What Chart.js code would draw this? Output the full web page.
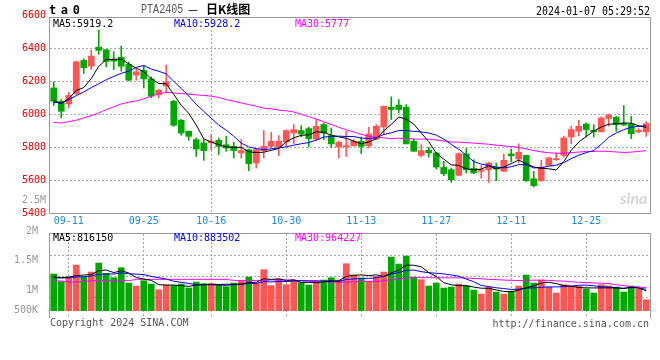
<!DOCTYPE html>
<html>
<head>
<meta charset="utf-8">
<script src="https://cdn.jsdelivr.net/npm/chart.js@4.4.1/dist/chart.umd.min.js"></script>
<style>
    body { margin: 0; background: #fff; }
    #wrap { position: relative; width: 660px; height: 360px; overflow: hidden; font-family: "DejaVu Sans Mono", monospace; font-size: 10px; }
    canvas { position: absolute; left: 0; }
    .t { position: absolute; white-space: nowrap; line-height: 12px; }
</style>
</head>
<body>
<div id="wrap">
    <canvas id="kline" width="660" height="229" style="top:0"></canvas>
    <canvas id="vol" width="660" height="92" style="top:226px"></canvas>

    <div class="t" style="left:49px;top:3px;font-size:12px;font-weight:bold;letter-spacing:-1.3px;line-height:14px">t a 0</div>
    <div class="t" style="left:141px;top:3px;font-family:'Liberation Mono';font-size:12px;line-height:14px;color:#555;transform:scaleX(0.84);transform-origin:left">PTA2405</div>
    <div class="t" style="left:187px;top:3px;font-family:'Noto Sans CJK SC';font-size:12px;line-height:14px;color:#000">－</div>
    <div class="t" style="left:206px;top:2px;font-family:'Noto Sans CJK SC';font-size:12px;font-weight:bold;line-height:14px;color:#000">日K线图</div>
    <div class="t" style="left:536px;top:4px;font-size:12px;line-height:14px;transform:scaleX(0.83);transform-origin:left">2024-01-07 05:29:52</div>

    <div class="t" style="left:53px;top:18px;color:#000">MA5:5919.2</div>
    <div class="t" style="left:174px;top:18px;color:#0000ff">MA10:5928.2</div>
    <div class="t" style="left:295px;top:18px;color:#ff00ff">MA30:5777</div>
    <div class="t" style="right:614px;top:194px;color:#999">2.5M</div>
    <div class="t" style="left:620px;top:189px;font-family:Lato;font-style:italic;font-weight:bold;font-size:16px;color:#d4d4d4;line-height:18px">sina</div>

    <div class="t" style="left:53px;top:232px;color:#000">MA5:816150</div>
    <div class="t" style="left:174px;top:232px;color:#0000ff">MA10:883502</div>
    <div class="t" style="left:295px;top:232px;color:#ff00ff">MA30:964227</div>

    <div class="t" style="left:50px;top:317px;color:#555">Copyright 2024 SINA.COM</div>
    <div class="t" style="right:11px;top:318px;color:#555">http://finance.sina.com.cn</div>
</div>
<script>
const DATES = ['09-07','09-08','09-11','09-12','09-13','09-14','09-15','09-18','09-19','09-20',
    '09-21','09-22','09-25','09-26','09-27','09-28','10-09','10-10','10-11','10-12',
    '10-13','10-16','10-17','10-18','10-19','10-20','10-23','10-24','10-25','10-26',
    '10-27','10-30','10-31','11-01','11-02','11-03','11-06','11-07','11-08','11-09',
    '11-10','11-13','11-14','11-15','11-16','11-17','11-20','11-21','11-22','11-23',
    '11-24','11-27','11-28','11-29','11-30','12-01','12-04','12-05','12-06','12-07',
    '12-08','12-11','12-12','12-13','12-14','12-15','12-18','12-19','12-20','12-21',
    '12-22','12-25','12-26','12-27','12-28','12-29','01-02','01-03','01-04','01-05'];

const OPEN = [6160,6079,6063,6126,6327,6292,6408,6392,6333,6347,
    6303,6238,6266,6215,6120,6171,6079,5964,5897,5846,
    5826,5826,5842,5815,5805,5765,5785,5704,5779,5805,
    5801,5832,5886,5901,5913,5850,5937,5870,5801,5801,
    5809,5836,5809,5850,5923,6043,6055,6043,5836,5750,
    5781,5765,5677,5663,5629,5759,5671,5653,5663,5679,
    5653,5759,5728,5750,5608,5596,5690,5724,5750,5862,
    5897,5941,5903,5893,5974,5982,5943,5941,5893,5893];
const HIGH = [6197,6089,6134,6323,6337,6390,6512,6395,6380,6414,
    6317,6276,6296,6227,6150,6298,6085,5968,5897,5856,
    5846,5876,5856,5866,5830,5846,5789,5791,5901,5891,
    5870,5905,5937,5931,5921,5968,5947,5917,5836,5897,
    5846,5862,5921,5937,6049,6106,6089,6059,5850,5815,
    5799,5769,5714,5673,5765,5791,5724,5688,5710,5704,
    5759,5789,5820,5750,5653,5720,5740,5765,5866,5927,
    5964,5947,5937,5984,6002,5988,6053,5988,5913,5955];
const LOW = [6053,5978,6039,6120,6248,6272,6364,6288,6272,6262,
    6203,6207,6160,6100,6100,6130,5927,5872,5842,5744,
    5720,5785,5755,5775,5734,5734,5657,5673,5734,5795,
    5748,5805,5822,5862,5801,5842,5846,5799,5734,5744,
    5805,5761,5795,5846,5876,5968,6008,5820,5775,5740,
    5740,5667,5627,5586,5629,5643,5639,5612,5586,5596,
    5653,5710,5704,5592,5558,5592,5688,5720,5740,5820,
    5870,5862,5862,5893,5927,5897,5931,5852,5886,5866];
const CLOSE = [6079,6018,6114,6319,6282,6353,6388,6321,6323,6292,
    6207,6258,6215,6110,6146,6197,5933,5886,5866,5789,
    5779,5836,5805,5795,5779,5779,5700,5785,5805,5836,
    5836,5901,5907,5880,5852,5927,5886,5820,5830,5809,
    5836,5805,5880,5927,6049,6029,6029,5820,5775,5779,
    5765,5679,5639,5602,5761,5663,5643,5663,5704,5667,
    5720,5748,5769,5596,5566,5679,5734,5730,5856,5907,
    5927,5907,5893,5978,5994,5937,5935,5882,5903,5943];
const VOLUME = [1503000,1189000,1367000,1872000,1394000,1585000,1954000,1531000,1353000,1763000,
    1134000,1011000,1230000,1093000,861000,1052000,1025000,1093000,929000,1175000,
    1107000,1107000,1052000,984000,1134000,1203000,1380000,1134000,1681000,1025000,
    1298000,1066000,1257000,1148000,1052000,1216000,1257000,1353000,1257000,1927000,
    1462000,1339000,1216000,1408000,1585000,2200000,1913000,2241000,1380000,1271000,
    1011000,1134000,929000,970000,1093000,1011000,847000,683000,957000,765000,
    683000,793000,1011000,1462000,1134000,1257000,970000,724000,1066000,998000,
    998000,888000,724000,1066000,1011000,970000,765000,1011000,888000,451000];

const PRICE_MA5_HEAD = [6084, 6064, 6095, 6144];
const PRICE_MA10_HEAD = [6072, 6070, 6088, 6113, 6136, 6162, 6185, 6210, 6230];
const PRICE_MA30_HEAD = [5951, 5947, 5955, 5964, 5978, 5992, 6008, 6029, 6045, 6063,
    6073, 6081, 6094, 6110, 6124, 6134, 6130, 6126, 6122, 6118,
    6114, 6110, 6102, 6089, 6079, 6069, 6059, 6049, 6037];
const VOL_MA5_HEAD = [1380000, 1353000, 1380000, 1435000];
const VOL_MA10_HEAD = [1353000, 1339000, 1353000, 1380000, 1394000, 1421000, 1490000, 1503000, 1503000];
const VOL_MA30_HEAD = [1230000, 1216000, 1175000, 1175000, 1203000, 1230000, 1230000, 1230000, 1230000, 1230000,
    1230000, 1285000, 1285000, 1285000, 1285000, 1285000, 1285000, 1285000, 1285000, 1285000,
    1285000, 1285000, 1285000, 1285000, 1240000, 1240000, 1240000, 1240000, 1240000];

const DATE_TICKS = ['09-11', '09-25', '10-16', '10-30', '11-13', '11-27', '12-11', '12-25'];
const PRICE_TICKS = [6600, 6400, 6200, 6000, 5800, 5600, 5400];
const PRICE_GRID = [6400, 6200, 6000, 5800, 5600];
const VOL_TICK_VALUES = [3267000, 2078000, 848000, 28000];
const VOL_TICK_LABELS = ['2M', '1.5M', '1M', '500K'];

// --- colours from the Sina day-K chart ---
const COLORS = {
    up: '#ff5555',
    down: '#00a800',
    grid: '#a8a8a8',
    frame: '#999999',
    priceTick: '#e60000',
    dateTick: '#1b8ae0',
    volTick: '#999999'
};
const MONO = { family: 'DejaVu Sans Mono', size: 10 };

function movingAverage(values, n, head) {
    return values.map((v, i) => {
        if (i < head.length) return head[i];
        let sum = 0;
        for (let k = i - n + 1; k <= i; k++) sum += values[k];
        return sum / n;
    });
}

const candleColors = CLOSE.map((c, i) => c >= OPEN[i] ? COLORS.up : COLORS.down);
const isDateTick = i => DATE_TICKS.includes(DATES[i]);

const frame = {
    id: 'frame',
    afterDraw(chart) {
        const { ctx, chartArea: a } = chart;
        ctx.save();
        ctx.strokeStyle = COLORS.frame;
        ctx.lineWidth = 1;
        ctx.strokeRect(Math.round(a.left) - 0.5, Math.round(a.top) - 0.5, Math.round(a.right - a.left) + 1, Math.round(a.bottom - a.top) + 1);
        ctx.restore();
    }
};

const lineSet = (data, color) => ({
    type: 'line', data, borderColor: color, borderWidth: 1, pointRadius: 0, tension: 0, order: 0
});

const dateGrid = {
    offset: false,
    drawTicks: false,
    color: c => isDateTick(c.index) ? COLORS.grid : 'transparent'
};

// left axis is a fixed 50px strip and must not push the plot box around
const fixLeftAxis = s => { s.width = 50; s.paddingTop = 0; s.paddingBottom = 0; };

Chart.defaults.animation = false;

new Chart(document.getElementById('kline'), {
    type: 'bar',
    data: {
        labels: DATES,
        datasets: [
            lineSet(movingAverage(CLOSE, 5, PRICE_MA5_HEAD), '#000000'),
            lineSet(movingAverage(CLOSE, 10, PRICE_MA10_HEAD), '#0000ff'),
            lineSet(movingAverage(CLOSE, 30, PRICE_MA30_HEAD), '#ff00ff'),
            {
                type: 'bar', data: OPEN.map((o, i) => [o, CLOSE[i]]),
                backgroundColor: candleColors, barThickness: 6, minBarLength: 1, grouped: false, order: 1
            },
            {
                type: 'bar', data: LOW.map((l, i) => [l, HIGH[i]]),
                backgroundColor: candleColors, barThickness: 1, grouped: false, order: 2
            }
        ]
    },
    options: {
        responsive: false,
        layout: { autoPadding: false, padding: { top: 18, right: 10, left: 0, bottom: 0 } },
        plugins: { legend: { display: false }, tooltip: { enabled: false } },
        scales: {
            x: {
                offset: true,
                grid: dateGrid,
                border: { display: false, dash: [2, 2] },
                ticks: {
                    autoSkip: false, maxRotation: 0, padding: 2,
                    color: COLORS.dateTick, font: MONO,
                    callback: (v, i) => isDateTick(i) ? DATES[i] : null
                },
                afterFit: s => { s.height = 16; }
            },
            y: {
                min: 5400, max: 6585,
                afterBuildTicks: s => { s.ticks = PRICE_TICKS.map(v => ({ value: v })); },
                afterFit: fixLeftAxis,
                ticks: { autoSkip: false, padding: 4, color: COLORS.priceTick, font: MONO, callback: v => String(v) },
                grid: { drawTicks: false, color: c => (c.tick && PRICE_GRID.includes(c.tick.value)) ? COLORS.grid : 'transparent' },
                border: { display: false, dash: [2, 2] }
            }
        }
    },
    plugins: [frame]
});

new Chart(document.getElementById('vol'), {
    type: 'bar',
    data: {
        labels: DATES,
        datasets: [
            lineSet(movingAverage(VOLUME, 5, VOL_MA5_HEAD), '#000000'),
            lineSet(movingAverage(VOLUME, 10, VOL_MA10_HEAD), '#0000ff'),
            lineSet(movingAverage(VOLUME, 30, VOL_MA30_HEAD), '#ff00ff'),
            { type: 'bar', data: VOLUME, backgroundColor: candleColors, barThickness: 6, order: 1 }
        ]
    },
    options: {
        responsive: false,
        layout: { autoPadding: false, padding: { top: 8, right: 10, left: 0, bottom: 0 } },
        plugins: { legend: { display: false }, tooltip: { enabled: false } },
        scales: {
            x: {
                offset: true,
                grid: dateGrid,
                border: { display: false, dash: [2, 2] },
                ticks: { display: false },
                afterFit: s => { s.height = 0; }
            },
            y: {
                min: -300000, max: 3145000,
                afterBuildTicks: s => { s.ticks = VOL_TICK_VALUES.map(v => ({ value: v })); },
                afterFit: fixLeftAxis,
                ticks: { autoSkip: false, padding: 4, color: COLORS.volTick, font: MONO, callback: (v, i) => VOL_TICK_LABELS[i] },
                grid: { display: false },
                border: { display: false }
            },
            yg: {
                position: 'right',
                min: 0, max: 4,
                ticks: { display: false, stepSize: 1 },
                grid: { drawTicks: false, color: c => (c.tick && c.tick.value > 0 && c.tick.value < 4) ? COLORS.grid : 'transparent' },
                border: { display: false, dash: [2, 2] },
                afterFit: s => { s.width = 0; s.paddingTop = 0; s.paddingBottom = 0; }
            }
        }
    },
    plugins: [frame]
});
</script>
</body>
</html>
